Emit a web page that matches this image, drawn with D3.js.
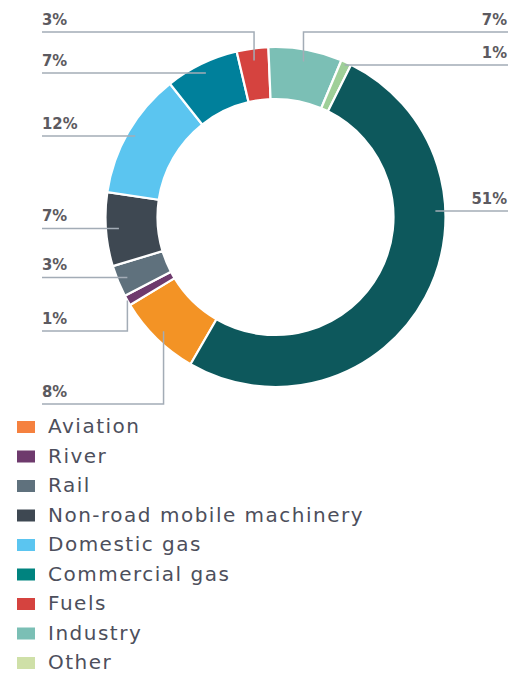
<!DOCTYPE html>
<html>
<head>
<meta charset="utf-8">
<script src="https://cdn.jsdelivr.net/npm/d3@7"></script>
<style>
  body { margin: 0; background: #fff; }
  svg { display: block; }
</style>
</head>
<body>
<div id="donut"></div>
<script>
/* shares, clockwise from the aviation slice */
var categories = ["Aviation", "River", "Rail", "Non-road mobile machinery", "Domestic gas",
                  "Commercial gas", "Fuels", "Industry", "Other", "Road transport"];
var values = [8, 1, 3, 7, 12, 7, 3, 7, 1, 51];
var pctLabels = ["8%", "1%", "3%", "7%", "12%", "7%", "3%", "7%", "1%", "51%"];
var legendItems = categories.slice(0, 9);

/* styles */
var sliceColors = ["#f39325", "#6e3a6d", "#5f717d", "#3e4852", "#5bc5f0",
                   "#00809b", "#d5433f", "#7bbfb5", "#9fcf98", "#0d585c"];
var legendColors = ["#f5813f", "#6e3a6d", "#5f717d", "#3e4852", "#5bc5f0",
                    "#00837f", "#d5433f", "#7bbfb5", "#cfe0a8"];

/* label rows: side of the chart, y of the leader line (null = slice centroid), elbow */
var labelLayout = [
  { side: "left",  y: 404,  elbow: true,  r: 160 },
  { side: "left",  y: 331,  elbow: true,  r: 170 },
  { side: "left",  y: null, elbow: false, r: 160 },
  { side: "left",  y: null, elbow: false, r: 157 },
  { side: "left",  y: null, elbow: false, r: 162 },
  { side: "left",  y: null, elbow: false, r: 160 },
  { side: "left",  y: 32,   elbow: true,  r: 158 },
  { side: "right", y: 32,   elbow: true,  r: 158 },
  { side: "right", y: 65,   elbow: true,  r: 168 },
  { side: "right", y: 211,  elbow: false, r: 160, ring: true }
];

var width = 511, height = 674,
    cx = 275.5, cy = 217,
    outerR = 170, innerR = 118,
    leftX = 42, rightX = 508;

var svg = d3.select("#donut")
            .append("svg")
            .attr("width", width)
            .attr("height", height);

var pie = d3.pie()
    .sort(null)
    .value(function(d) { return d; })
    .startAngle(-150 * Math.PI / 180)
    .endAngle(210 * Math.PI / 180);

var arcs = pie(values);

var arc = d3.arc()
    .innerRadius(innerR)
    .outerRadius(outerR);

var ring = svg.append("g")
    .attr("transform", "translate(" + cx + "," + cy + ")");

/* draw slices */
ring.selectAll("path")
    .data(arcs)
    .enter().append("path")
        .attr("d", arc)
        .attr("fill", function(d, i) { return sliceColors[i]; })
        .attr("stroke", "#fff")
        .attr("stroke-width", 2.2);

/* leader lines and percentage labels */
var labels = svg.append("g").attr("class", "labels");

arcs.forEach(function(d, i) {
    var lay = labelLayout[i];
    var p = d3.arc().innerRadius(lay.r).outerRadius(lay.r).centroid(d);
    var px = cx + p[0], py = cy + p[1];
    var edge = lay.side === "left" ? leftX : rightX;
    var pts;
    if (lay.ring) {
        var ly = lay.y;
        var dx = Math.sqrt(lay.r * lay.r - (ly - cy) * (ly - cy));
        pts = [[edge, ly], [cx + (lay.side === "left" ? -dx : dx), ly]];
    } else if (lay.elbow) {
        pts = [[edge, lay.y], [px, lay.y], [px, py]];
    } else {
        pts = [[edge, py], [px, py]];
    }
    var lineY = pts[0][1];

    labels.append("path")
        .attr("d", d3.line()(pts))
        .attr("fill", "none")
        .attr("stroke", "#a3acb6")
        .attr("stroke-width", 1.5);

    labels.append("text")
        .attr("x", lay.side === "left" ? leftX : rightX - 1)
        .attr("y", lineY - 7)
        .attr("text-anchor", lay.side === "left" ? "start" : "end")
        .attr("font-family", "'DejaVu Sans Condensed', 'DejaVu Sans', sans-serif")
        .attr("font-weight", "bold")
        .attr("font-size", 16.5)
        .attr("fill", "#5c5a60")
        .text(pctLabels[i]);
});

/* legend */
var legend = svg.append("g")
    .attr("class", "legend")
    .selectAll("g")
    .data(legendItems)
    .enter().append("g")
        .attr("transform", function(d, i) { return "translate(17," + (421 + i * 29.5) + ")"; });

legend.append("rect")
    .attr("width", 18)
    .attr("height", 12)
    .attr("fill", function(d, i) { return legendColors[i]; });

legend.append("text")
    .attr("x", 31)
    .attr("y", 12)
    .attr("font-family", "'DejaVu Sans', sans-serif")
    .attr("font-size", 20)
    .attr("letter-spacing", 1.5)
    .attr("fill", "#4d4f5c")
    .text(function(d) { return d; });
</script>
</body>
</html>
